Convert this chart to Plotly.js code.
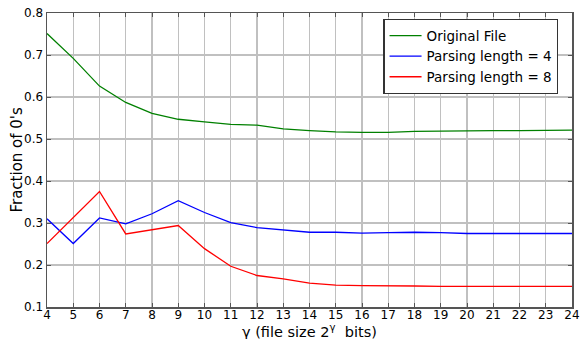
<!DOCTYPE html>
<html>
<head>
<meta charset="utf-8">
<script src="https://cdn.plot.ly/plotly-3.0.1.min.js"></script>
<style>html,body{margin:0;padding:0;background:#fff;}#chart{width:582px;height:339px;}</style>
</head>
<body>
<div id="chart"></div>
<script>
var gamma = [4,5,6,7,8,9,10,11,12,13,14,15,16,17,18,19,20,21,22,23,24];
var originalFile = [0.751,0.692,0.626,0.587,0.561,0.547,0.541,0.535,0.533,0.524,0.520,0.517,0.516,0.516,0.518,0.519,0.520,0.520,0.520,0.521,0.521];
var parsing4 = [0.310,0.251,0.312,0.298,0.322,0.353,0.325,0.301,0.289,0.284,0.278,0.278,0.276,0.277,0.278,0.277,0.275,0.275,0.275,0.275,0.275];
var parsing8 = [0.251,0.312,0.375,0.274,0.284,0.294,0.239,0.197,0.175,0.167,0.157,0.152,0.151,0.151,0.150,0.149,0.149,0.149,0.149,0.149,0.149];
var seriesNames = ["Original File","Parsing length = 4","Parsing length = 8"];
var xTicks = gamma;
var yTicks = [0.1,0.2,0.3,0.4,0.5,0.6,0.7,0.8];
var xTitle = "γ (file size 2<sup>γ</sup>  bits)";
var yTitle = "Fraction of 0's";

var font = "DejaVu Sans, sans-serif";
var traces = [
  {x: gamma, y: originalFile, name: seriesNames[0], mode: "lines", line: {color: "#008000", width: 1.3}},
  {x: gamma, y: parsing4, name: seriesNames[1], mode: "lines", line: {color: "#0000ff", width: 1.3}},
  {x: gamma, y: parsing8, name: seriesNames[2], mode: "lines", line: {color: "#ff0000", width: 1.3}}
];
var axisCommon = {
  showline: true, mirror: "ticks", linecolor: "#555", linewidth: 1.5,
  ticks: "inside", ticklen: 4, tickcolor: "#555", tickwidth: 1,
  showgrid: true, gridcolor: "#c0c0c0", gridwidth: 1.3,
  zeroline: false, tickfont: {family: font, size: 12, color: "#000"}
};
var layout = {
  width: 582, height: 339,
  margin: {l: 47, r: 10, t: 13, b: 32},
  paper_bgcolor: "#fff", plot_bgcolor: "#fff",
  showlegend: true,
  font: {family: font, color: "#000"},
  xaxis: Object.assign({}, axisCommon, {
    range: [4, 24], tickvals: xTicks, ticktext: xTicks.map(String), ticklabelstandoff: -4
  }),
  yaxis: Object.assign({}, axisCommon, {
    range: [0.1, 0.8], tickvals: yTicks, ticktext: yTicks.map(function(v){return v.toFixed(1);})
  }),
  annotations: [
    {text: xTitle, xref: "paper", yref: "paper", x: 0.5, y: -0.081, xanchor: "center", yanchor: "middle",
     showarrow: false, font: {family: font, size: 14.5}},
    {text: yTitle, xref: "paper", yref: "paper", x: -0.058, y: 0.5, xanchor: "center", yanchor: "middle",
     textangle: -90, showarrow: false, font: {family: font, size: 15}}
  ],
  legend: {
    x: 0.974, y: 0.979, xanchor: "right", yanchor: "top",
    bgcolor: "#fff", bordercolor: "#333", borderwidth: 1.2,
    font: {family: font, size: 13.5}, tracegroupgap: 0, itemwidth: 32
  }
};
Plotly.newPlot("chart", traces, layout, {displayModeBar: false, staticPlot: true});
</script>
</body>
</html>
